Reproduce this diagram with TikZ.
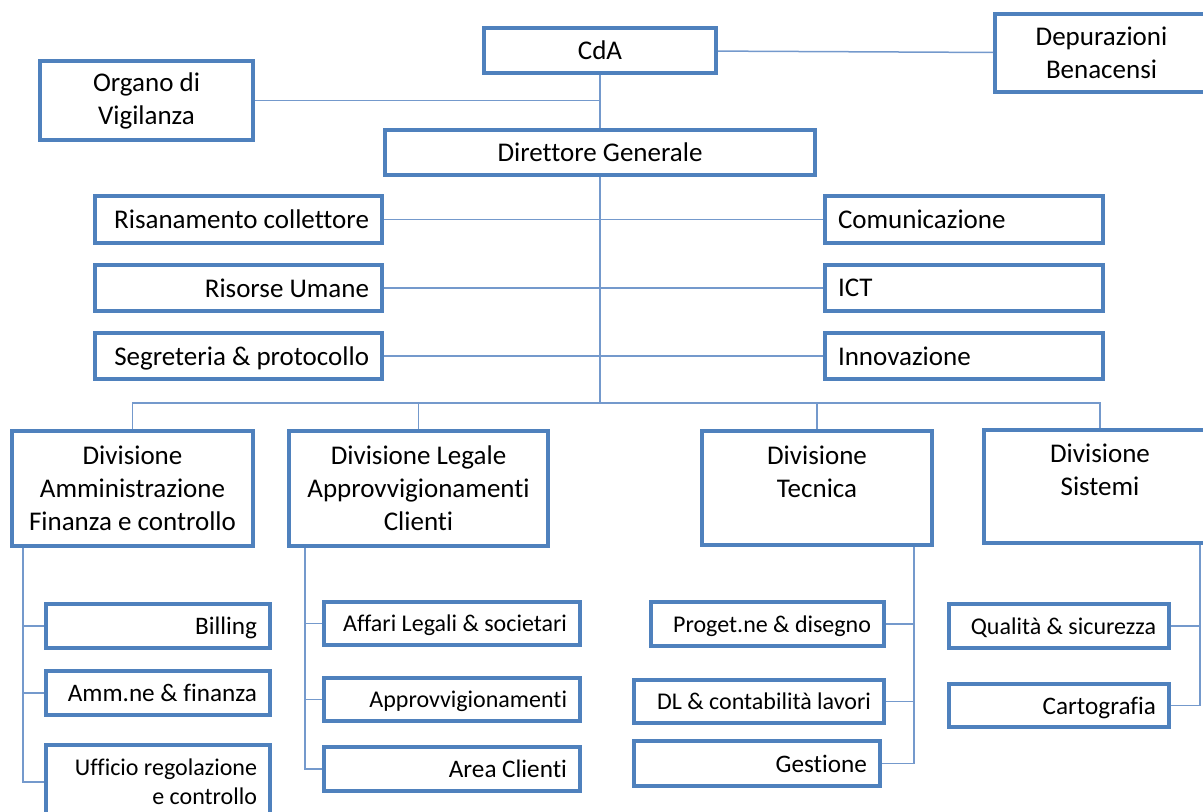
\documentclass[tikz,border=0pt]{standalone}
\usepackage{fontspec}
\setmainfont{Carlito}[Ligatures=NoCommon]
\definecolor{boxblue}{HTML}{4F81BD}
\definecolor{lineblue}{HTML}{7499CC}
\begin{document}
\begin{tikzpicture}[x=0.5pt,y=-0.5pt,
  box node/.style={rectangle,draw=boxblue,line width=2pt,fill=white,inner ysep=0pt,inner xsep=6.5pt},
  main node/.style={box node,align=center,font=\fontsize{13.5}{16.5}\selectfont},
  left node/.style={box node,align=flush left,text depth=0pt,font=\fontsize{13.5}{16.5}\selectfont},
  right node/.style={box node,align=flush right,text depth=0pt,font=\fontsize{13.5}{16.5}\selectfont},
  unit box/.style={box node,align=flush right,font=\fontsize{12}{14.5}\selectfont},
  unit node/.style={unit box,text depth=0pt},
  big unit/.style={font=\fontsize{12.6}{14.5}\selectfont},
  link/.style={draw=lineblue,line width=0.75pt}]

  \clip (0,0) rectangle (1203,811);
  \useasboundingbox (0,0) rectangle (1203,811);

  % top
  \node[main node,minimum width=116pt,minimum height=22.5pt] (cda) at (600,50.5) {CdA};
  \node[main node,minimum width=106.5pt,minimum height=39pt] (dep) at (1101.5,53) {Depurazioni\\Benacensi};
  \node[main node,minimum width=106.5pt,minimum height=39.5pt] (org) at (146.5,100.5) {Organo di\\Vigilanza};
  \node[main node,minimum width=215pt,minimum height=22.5pt] (dg) at (600,152.5) {Direttore Generale};

  % staff
  \node[right node,text width=130.5pt,minimum height=23.5pt] (ris) at (238.5,219.5) {Risanamento collettore};
  \node[right node,text width=130.5pt,minimum height=23pt] (rum) at (238.5,288) {Risorse Umane};
  \node[right node,text width=130.5pt,minimum height=23pt] (seg) at (238.5,356) {Segreteria \& protocollo};
  \node[left node,text width=126pt,minimum height=23.5pt] (com) at (964,219.5) {Comunicazione};
  \node[left node,text width=126pt,minimum height=23pt] (ict) at (964,288) {ICT};
  \node[left node,text width=126pt,minimum height=23pt] (inn) at (964,356) {Innovazione};

  % divisions
  \node[main node,minimum width=120.5pt,minimum height=57.5pt] (dam) at (132.5,488.5) {Divisione\\Amministrazione\\Finanza e controllo};
  \node[main node,minimum width=129.5pt,minimum height=57.5pt] (dle) at (418.5,488.5) {Divisione Legale\\Approvvigionamenti\\Clienti};
  \node[main node,minimum width=115pt,minimum height=57pt] (dte) at (817,488) {Divisione\\Tecnica\\~};
  \node[main node,minimum width=116pt,minimum height=56.5pt] (dsi) at (1100,486.5) {Divisione\\Sistemi\\~};

  % units
  \node[unit node,big unit,text width=99pt,minimum height=22pt] (bil) at (158,626) {Billing};
  \node[unit node,big unit,text width=99pt,minimum height=22pt] (amf) at (158,693) {Amm.ne \& finanza};
  \node[unit box,text width=99pt,minimum height=37pt] (uff) at (158,782) {Ufficio regolazione\\e controllo};
  \node[unit node,text width=115pt,minimum height=21.5pt] (afl) at (452,623.5) {Affari Legali \& societari};
  \node[unit node,text width=115pt,minimum height=21.5pt] (app) at (452,699.5) {Approvvigionamenti};
  \node[unit node,big unit,text width=115pt,minimum height=22pt] (acl) at (452,769) {Area Clienti};
  \node[unit node,text width=103.5pt,minimum height=22pt] (pro) at (767.5,624) {Proget.ne \& disegno};
  \node[unit node,text width=112pt,minimum height=21.5pt] (dlc) at (759,701.5) {DL \& contabilità lavori};
  \node[unit node,big unit,text width=110pt,minimum height=22.5pt] (ges) at (757,763.5) {Gestione};
  \node[unit node,text width=97pt,minimum height=22pt] (qua) at (1059,626) {Qualità \& sicurezza};
  \node[unit node,big unit,text width=97pt,minimum height=21.5pt] (car) at (1059,705.5) {Cartografia};

  \coordinate (bus) at (600,403);

  \path[link]
    (cda) edge (dg)
    (cda) edge (dep)
    (dg) edge (bus)
    (ris) edge (com)
    (rum) edge (ict)
    (seg) edge (inn);
  \draw[link] (org.east) -- (org.east -| cda.south);
  \draw[link] (dam.north) |- (bus) -| (dsi.north);
  \draw[link] (dle.north) -- (dle.north |- bus);
  \draw[link] (dte.north) -- (dte.north |- bus);

  \draw[link] ([xshift=6.5pt]dam.south west) |- (uff.west);
  \draw[link] ([xshift=6.5pt]dam.south west |- bil.west) -- (bil.west);
  \draw[link] ([xshift=6.5pt]dam.south west |- amf.west) -- (amf.west);
  \draw[link] ([xshift=9pt]dle.south west) |- (acl.west);
  \draw[link] ([xshift=9pt]dle.south west |- afl.west) -- (afl.west);
  \draw[link] ([xshift=9pt]dle.south west |- app.west) -- (app.west);
  \draw[link] ([xshift=-10pt]dte.south east) |- (ges.east);
  \draw[link] ([xshift=-10pt]dte.south east |- pro.east) -- (pro.east);
  \draw[link] ([xshift=-10pt]dte.south east |- dlc.east) -- (dlc.east);
  \draw[link] ([xshift=-9pt]dsi.south east) |- (car.east);
  \draw[link] ([xshift=-9pt]dsi.south east |- qua.east) -- (qua.east);
\end{tikzpicture}
\end{document}
